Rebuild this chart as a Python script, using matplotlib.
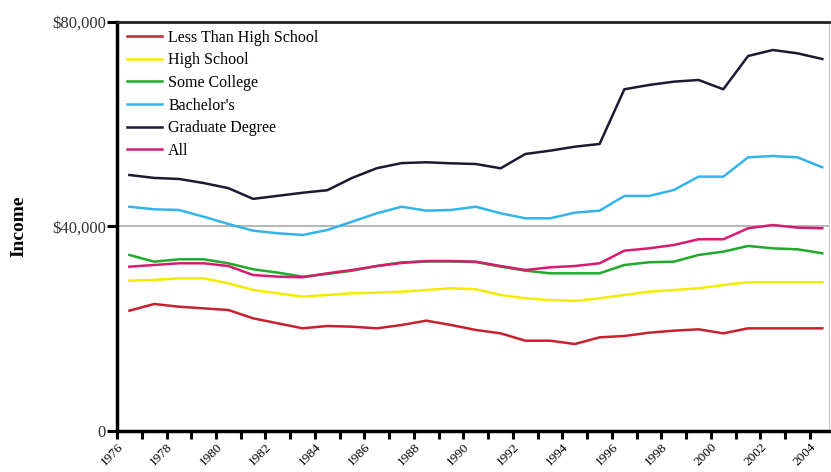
import numpy as np
import matplotlib
matplotlib.use('Agg')
import matplotlib.pyplot as plt

years = list(range(1976, 2005))

less_than_hs = [23530, 24840, 24310, 23990, 23660, 22040, 21060, 20080, 20540, 20400,
                20080, 20730, 21580, 20730, 19760, 19100, 17660, 17660, 17010, 18320,
                18580, 19230, 19620, 19890, 19100, 20080, 20080, 20080, 20080]
high_school = [29400, 29540, 29860, 29860, 28890, 27580, 26930, 26280, 26600, 26930,
               27060, 27250, 27580, 27910, 27710, 26600, 25950, 25620, 25430, 25950,
               26600, 27250, 27580, 27910, 28560, 29080, 29080, 29080, 29080]
some_college = [34430, 33120, 33580, 33580, 32800, 31630, 30970, 30190, 30710, 31360,
                32270, 32990, 33150, 33150, 33050, 32140, 31360, 30840, 30840, 30840,
                32470, 33000, 33120, 34430, 35080, 36190, 35730, 35540, 34760]
bachelors = [43870, 43360, 43230, 41920, 40490, 39180, 38670, 38340, 39320, 40940,
             42580, 43870, 43100, 43230, 43870, 42580, 41600, 41600, 42710, 43100,
             45970, 45970, 47140, 49750, 49750, 53530, 53790, 53530, 51580]
graduate = [50070, 49500, 49300, 48500, 47500, 45400, 46000, 46600, 47100, 49500,
            51400, 52400, 52560, 52360, 52220, 51380, 54180, 54830, 55610, 56140,
            66840, 67680, 68330, 68660, 66840, 73350, 74520, 73870, 72760]
all_levels = [32140, 32470, 32800, 32800, 32270, 30510, 30190, 30060, 30840, 31490,
              32270, 32860, 33250, 33250, 33120, 32270, 31490, 32010, 32270, 32800,
              35270, 35730, 36380, 37500, 37500, 39650, 40290, 39780, 39650]

series = [
    ("Less Than High School", less_than_hs, "#c8202c"),
    ("High School", high_school, "#f2ec00"),
    ("Some College", some_college, "#1faa2a"),
    ("Bachelor's", bachelors, "#34b4ee"),
    ("Graduate Degree", graduate, "#1a1a33"),
    ("All", all_levels, "#d81b6e"),
]

plt.rcParams['font.family'] = ['Liberation Serif', 'DejaVu Serif']

fig = plt.figure(figsize=(8.31, 4.72), dpi=100)
ax = fig.add_axes([0.1408, 0.0869, 0.8568, 0.8665])

# data points sit in the middle of each year slot
xs = np.array(years) + 0.5
for name, vals, col in series:
    ax.plot(xs, vals, color=col, lw=1.8, label=name, zorder=3)

ax.axhline(40000, color='#aaaaaa', lw=1.2, zorder=1)

ax.set_xlim(1976, 2004.77)
ax.set_ylim(0, 80000)

ax.set_yticks([0, 40000, 80000])
ax.set_yticklabels(["0", "$40,000", "$80,000"], fontsize=12, color='#333333')
ax.set_xticks(years, minor=True)
ax.set_xticks(years[::2])
ax.set_xticklabels([str(y) for y in years[::2]], rotation=45, ha='right',
                   rotation_mode='anchor', fontsize=9.5)
ax.tick_params(axis='y', length=7, width=2.2, pad=1)
ax.tick_params(axis='x', which='both', length=6, width=2.2, pad=1)

ax.set_ylabel("Income", fontsize=14, fontweight='bold', labelpad=18)

for s in ['left', 'bottom']:
    ax.spines[s].set_linewidth(2.5)
ax.spines['top'].set_linewidth(2.0)
ax.spines['top'].set_color('#222222')
ax.spines['right'].set_linewidth(1.0)
ax.spines['right'].set_color('#cccccc')

leg = ax.legend(loc='upper left', frameon=False, fontsize=11.5, handlelength=2.2,
                handletextpad=0.4, labelspacing=0.42, borderaxespad=0.2,
                bbox_to_anchor=(0.0, 1.005))

plt.savefig("out.png", dpi=100)
